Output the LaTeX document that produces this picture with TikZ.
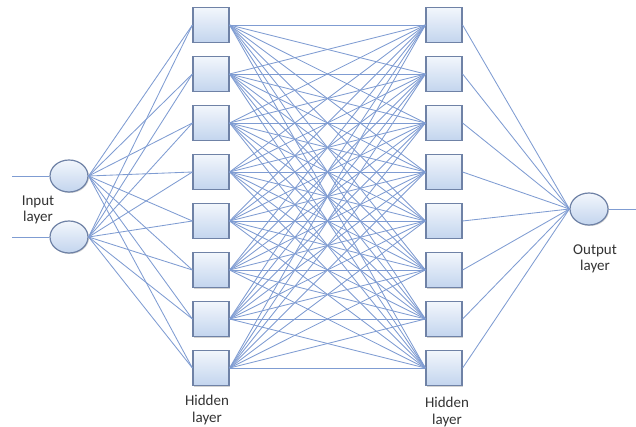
\documentclass[tikz,border=0pt]{standalone}
\usepackage{fontspec}
\setmainfont{Carlito}
\usetikzlibrary{shadows,shapes.geometric}
\definecolor{linkc}{HTML}{7F9CD2}
\definecolor{edgec}{HTML}{6F82A6}
\definecolor{filltop}{HTML}{F2F6FC}
\definecolor{fillbot}{HTML}{C3D5EE}
\begin{document}
\begin{tikzpicture}[x=1pt,y=-1pt,
  unitbox/.style={draw=edgec, line width=1.2pt, top color=filltop, bottom color=fillbot,
    minimum width=36pt, minimum height=35pt, inner sep=0pt,
    drop shadow={shadow xshift=1pt, shadow yshift=-1pt, opacity=0.35}},
  neuron/.style={ellipse, draw=edgec, line width=1.2pt, top color=filltop, bottom color=fillbot,
    minimum width=38pt, minimum height=32pt, inner sep=0pt,
    drop shadow={shadow xshift=1pt, shadow yshift=-1pt, opacity=0.35}},
  link/.style={draw=linkc, line width=0.85pt},
  lbl/.style={font=\fontsize{15}{16.5}\selectfont, text=black!80, align=center, inner sep=0pt}]
\useasboundingbox (0,0) rectangle (636,427);
\clip (0,0) rectangle (636,427);
% input neurons
\node[neuron] (i1) at (69,176) {};
\node[neuron] (i2) at (69,237) {};
% hidden layers
\foreach \k in {1,...,8} {
  \node[unitbox] (a\k) at (211,{25+49*(\k-1)}) {};
  \node[unitbox] (b\k) at (444,{25+49*(\k-1)}) {};
}
% output
\node[neuron] (o) at (589,209) {};
% free ends
\coordinate (in1) at (12,176);
\coordinate (in2) at (12,237);
\coordinate (out) at (636,209);
% connections
\draw[link] (in1) -- (i1.west);
\draw[link] (in2) -- (i2.west);
\draw[link] (o.east) -- (out);
\foreach \k in {1,...,8} {
  \draw[link] (i1.east) -- (a\k.west);
  \draw[link] (i2.east) -- (a\k.west);
  \draw[link] (b\k.east) -- (o.west);
  \foreach \m in {1,...,8} {
    \draw[link] (a\k.east) -- (b\m.west);
  }
}
% labels
\node[lbl] (li) at (38,210) {Input\\layer};
\node[lbl] (lo) at (595,259) {Output\\layer};
\node[lbl] (lh1) at (207,410) {Hidden\\layer};
\node[lbl] (lh2) at (447,412) {Hidden\\layer};
\end{tikzpicture}
\end{document}
